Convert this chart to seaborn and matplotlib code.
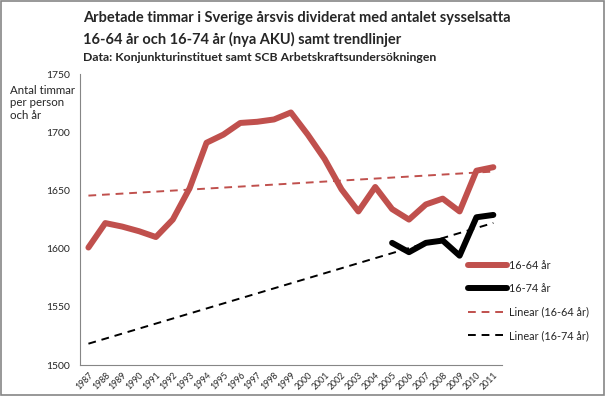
import numpy as np
import pandas as pd
import matplotlib.pyplot as plt
import seaborn as sns
from matplotlib.patches import Rectangle

# data
years = list(range(1987, 2012))
timmar_1664 = [1601, 1622, 1619, 1615, 1610, 1625, 1652, 1691, 1698, 1708, 1709, 1711, 1717,
               1698, 1677, 1651, 1632, 1653, 1634, 1625, 1638, 1643, 1632, 1667, 1670]
years_1674 = list(range(2005, 2012))
timmar_1674 = [1605, 1597, 1605, 1607, 1594, 1627, 1629]

df1 = pd.DataFrame({'ar': years, 'timmar': timmar_1664})
df2 = pd.DataFrame({'ar': years_1674, 'timmar': timmar_1674})

# linjära trender (som Excel: över hela kategoriaxeln)
k1, m1 = np.polyfit(df1['ar'], df1['timmar'], 1)
k2, m2 = np.polyfit(df2['ar'], df2['timmar'], 1)
trend = pd.DataFrame({'ar': years,
                      't1': k1 * np.array(years) + m1,
                      't2': k2 * np.array(years) + m2})

sns.set_style('white')
plt.rcParams['font.family'] = ['Lato', 'DejaVu Sans']

red = '#C0504D'
fig = plt.figure(figsize=(6.06, 3.96), dpi=100)
ax = fig.add_axes([0.132, 0.078, 0.696, 0.735])

sns.lineplot(data=df1, x='ar', y='timmar', color=red, lw=4.3, ax=ax, label='16-64 år')
sns.lineplot(data=df2, x='ar', y='timmar', color='black', lw=4.3, ax=ax, label='16-74 år')
sns.lineplot(data=trend, x='ar', y='t1', color=red, lw=1.4, ls=(0, (4, 3)), ax=ax,
             label='Linear (16-64 år)')
sns.lineplot(data=trend, x='ar', y='t2', color='black', lw=1.4, ls=(0, (4, 3)), ax=ax,
             label='Linear (16-74 år)')

ax.set_xlim(1986.5, 2011.5)
ax.set_ylim(1500, 1750)
ax.set_yticks(range(1500, 1751, 50))
ax.set_xticks(np.arange(1986.5, 2012, 1))
ax.set_xticklabels([])
ax.set_xticks(years, minor=True)
ax.set_xticklabels([str(y) for y in years], minor=True, rotation=45, ha='right',
                   rotation_mode='anchor', fontsize=6.3)
ax.tick_params(axis='x', which='minor', length=0, pad=4)
ax.tick_params(axis='x', which='major', length=4, color='#868686', direction='out')
ax.tick_params(axis='y', length=4, color='#868686', direction='out', labelsize=7.5, pad=3)
ax.set_xlabel('')
ax.set_ylabel('')
for s in ['top', 'right']:
    ax.spines[s].set_visible(False)
for s in ['left', 'bottom']:
    ax.spines[s].set_color('#868686')
    ax.spines[s].set_linewidth(0.8)

ax.legend(loc='upper left', bbox_to_anchor=(0.765, 0.355), bbox_transform=fig.transFigure,
          frameon=False, fontsize=7.8, handlelength=3.6, handletextpad=0.2, labelspacing=1.15,
          borderaxespad=0)

fig.text(0.137, 0.955, 'Arbetade timmar i Sverige årsvis dividerat med antalet sysselsatta',
         fontsize=10.5, fontweight='bold', va='center')
fig.text(0.137, 0.9, '16-64 år och 16-74 år (nya AKU) samt trendlinjer',
         fontsize=10.5, fontweight='bold', va='center')
fig.text(0.137, 0.855, 'Data: Konjunkturinstituet samt SCB Arbetskraftsundersökningen',
         fontsize=8.8, fontweight='bold', va='center')
fig.text(0.017, 0.74, 'Antal timmar\nper person\noch år', fontsize=8.3, va='center',
         linespacing=1.2)

fig.patches.append(Rectangle((0.002, 0.003), 0.994, 0.994, transform=fig.transFigure,
                             fill=False, edgecolor='#868686', lw=1.2))

fig.savefig('out.png', dpi=100)
